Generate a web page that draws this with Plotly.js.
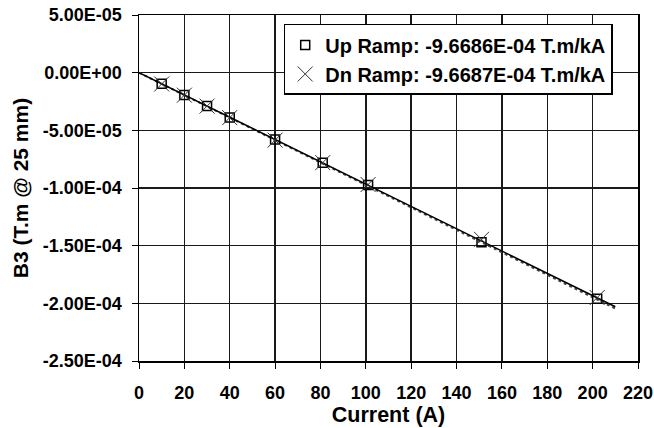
<!DOCTYPE html>
<html><head><meta charset="utf-8">
<script src="https://cdn.plot.ly/plotly-3.0.1.min.js"></script>
<style>body{margin:0;background:#fff}#c{width:654px;height:428px}</style>
</head><body><div id="c"></div>
<script>
const upX = [10, 20, 30, 40, 60, 81, 101, 151, 202];
const upY = [-9.6e-6, -1.93e-5, -2.9e-5, -3.88e-5, -5.8e-5, -7.82e-5, -9.75e-5, -1.47e-4, -1.96e-4];
const dnX = [10, 20, 30, 40, 60, 81, 101, 151, 202];
const dnY = [-9.8e-6, -1.95e-5, -2.9e-5, -3.9e-5, -5.85e-5, -7.8e-5, -9.7e-5, -1.445e-4, -1.95e-4];
const fitX = [0, 210];
const upFitY = [0, -2.03e-4];
const dnFitY = [0, -2.045e-4];
const upName = 'Up Ramp: -9.6686E-04 T.m/kA';
const dnName = 'Dn Ramp: -9.6687E-04 T.m/kA';
const yTickVals = [5e-5, 0, -5e-5, -1e-4, -1.5e-4, -2e-4, -2.5e-4];
const yTickText = ['5.00E-05', '0.00E+00', '-5.00E-05', '-1.00E-04', '-1.50E-04', '-2.00E-04', '-2.50E-04'];
const xTickVals = [0,20,40,60,80,100,120,140,160,180,200,220];

const fam = 'Liberation Sans, Arial, sans-serif';
const traces = [
  {x: fitX, y: dnFitY, mode: 'lines', line: {color: '#444', width: 2, dash: 'dot'}, showlegend: false, hoverinfo: 'skip'},
  {x: fitX, y: upFitY, mode: 'lines', line: {color: '#000', width: 1.5}, showlegend: false, hoverinfo: 'skip'},
  {x: upX, y: upY, name: upName, mode: 'markers', marker: {symbol: 'square-open', size: 9, color: '#000', line: {width: 1.5}}},
  {x: dnX, y: dnY, name: dnName, mode: 'markers', marker: {symbol: 'x-thin-open', size: 15, color: '#333', line: {width: 1, color: '#333'}}}
];
const layout = {
  width: 654, height: 428,
  margin: {l: 139, r: 16, t: 15, b: 67},
  paper_bgcolor: '#fff', plot_bgcolor: '#fff',
  font: {family: fam, color: '#000'},
  xaxis: {
    range: [0, 220], tickvals: xTickVals, ticks: 'outside', ticklen: 6, tickwidth: 1, tickcolor: '#000',
    ticklabelstandoff: 9, ticklabeloverflow: 'allow',
    showgrid: true, gridcolor: '#1a1a1a', gridwidth: 1.5, zeroline: false,
    showline: true, linecolor: '#000', linewidth: 1.5, mirror: true,
    tickfont: {family: fam, size: 18, color: '#000', weight: 'bold'},
    title: {text: 'Current (A)', font: {family: fam, size: 21.5, color: '#000', weight: 'bold'}, standoff: 2}
  },
  yaxis: {
    range: [-2.5e-4, 5e-5], tickvals: yTickVals, ticktext: yTickText, ticks: 'outside', ticklen: 6, tickwidth: 1, tickcolor: '#000',
    ticklabelstandoff: 6,
    showgrid: true, gridcolor: '#1a1a1a', gridwidth: 1.5, zeroline: false,
    showline: true, linecolor: '#000', linewidth: 1.5, mirror: true,
    tickfont: {family: fam, size: 18, color: '#000', weight: 'bold'},
    title: {text: 'B3 (T.m @ 25 mm)', font: {family: fam, size: 21, color: '#000', weight: 'bold'}, standoff: 8}
  },
  legend: {
    x: 0.29, y: 0.974, xanchor: 'left', yanchor: 'top',
    bgcolor: '#fff', bordercolor: '#000', borderwidth: 1.5,
    font: {family: fam, size: 20, color: '#000', weight: 'bold'},
    tracegroupgap: 2, itemwidth: 30
  },
  showlegend: true
};
Plotly.newPlot('c', traces, layout, {staticPlot: true, displayModeBar: false});
</script></body></html>
